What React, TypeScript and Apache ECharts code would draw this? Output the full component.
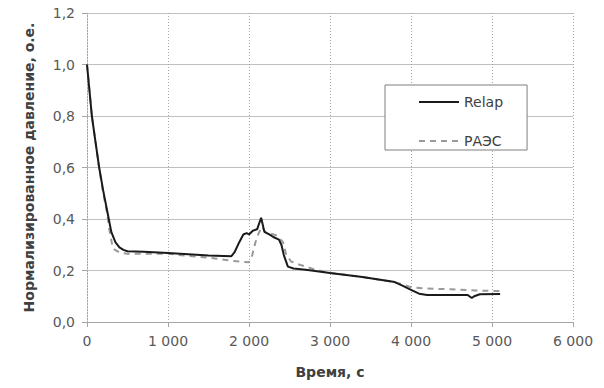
import React, { useEffect, useRef } from "react";
import * as echarts from "echarts";

const relapTime = [0, 60, 100, 150, 200, 250, 300, 350, 400, 450, 500, 700, 1000, 1300, 1500, 1780, 1820, 1880, 1930, 1970, 2000, 2050, 2100, 2150, 2190, 2250, 2300, 2370, 2400, 2430, 2480, 2550, 2700, 3000, 3400, 3700, 3800, 3900, 4000, 4100, 4200, 4500, 4700, 4750, 4780, 4850, 5100];
const relapValue = [1.0, 0.8, 0.71, 0.6, 0.51, 0.43, 0.35, 0.31, 0.29, 0.28, 0.275, 0.273, 0.268, 0.262, 0.258, 0.255, 0.27, 0.31, 0.34, 0.345, 0.34, 0.355, 0.36, 0.405, 0.35, 0.34, 0.33, 0.32, 0.3, 0.26, 0.215, 0.208, 0.203, 0.19, 0.175, 0.16, 0.155, 0.14, 0.125, 0.11, 0.105, 0.105, 0.105, 0.093, 0.1, 0.108, 0.109];

const raesTime = [0, 60, 150, 200, 250, 280, 320, 400, 500, 800, 1000, 1300, 1500, 1800, 2000, 2040, 2080, 2120, 2160, 2200, 2250, 2350, 2420, 2460, 2520, 2600, 2700, 2800, 3000, 3400, 3700, 3850, 3950, 4000, 4200, 4500, 4800, 5100];
const raesValue = [1.0, 0.8, 0.6, 0.5, 0.42, 0.35, 0.285, 0.27, 0.265, 0.265, 0.265, 0.255, 0.25, 0.237, 0.232, 0.26, 0.31, 0.345, 0.37, 0.35, 0.345, 0.335, 0.31, 0.26, 0.235, 0.225, 0.215, 0.205, 0.19, 0.175, 0.16, 0.15, 0.14, 0.135, 0.13, 0.127, 0.122, 0.12];

const xTicks = [0, 1000, 2000, 3000, 4000, 5000, 6000];
const yTicks = [0, 0.2, 0.4, 0.6, 0.8, 1.0, 1.2];

const seriesNames = ["Relap", "РАЭС"];

export default function App() {
  const ref = useRef<HTMLDivElement>(null);
  useEffect(() => {
    if (!ref.current) return;
    const chart = echarts.init(ref.current, null, { renderer: "svg" });
    const font = "DejaVu Sans";
    chart.setOption({
      animation: false,
      backgroundColor: "#ffffff",
      grid: { left: 87, right: 31, top: 13, bottom: 66, containLabel: false },
      legend: {
        orient: "vertical",
        left: 385,
        top: 85,
        backgroundColor: "#ffffff",
        borderColor: "#7f7f7f",
        borderWidth: 1,
        borderRadius: 0,
        padding: [10, 24, 2, 33],
        itemWidth: 40,
        itemHeight: 14,
        itemGap: 25,
        itemStyle: { opacity: 0 },
        textStyle: { fontFamily: font, fontSize: 14, color: "#404040" },
        data: seriesNames,
      },
      xAxis: {
        type: "value",
        min: xTicks[0],
        max: xTicks[xTicks.length - 1],
        interval: 1000,
        name: "Время, с",
        nameLocation: "middle",
        nameGap: 43,
        nameTextStyle: { fontFamily: font, fontSize: 14, fontWeight: "bold", color: "#404040" },
        axisLine: { lineStyle: { color: "#a6a6a6", width: 1 } },
        axisTick: { show: true, length: 5, lineStyle: { color: "#a6a6a6" } },
        axisLabel: {
          fontFamily: font,
          fontSize: 14,
          color: "#595959",
          margin: 12,
          formatter: (v: number) => String(v).replace(/\B(?=(\d{3})+(?!\d))/g, " "),
        },
        splitLine: { show: true, lineStyle: { color: "#a6a6a6", type: [1, 2], width: 1 } },
      },
      yAxis: {
        type: "value",
        min: yTicks[0],
        max: yTicks[yTicks.length - 1],
        interval: 0.2,
        name: "Нормализированное давление, о.е.",
        nameLocation: "middle",
        nameGap: 51,
        nameTextStyle: { fontFamily: font, fontSize: 14, fontWeight: "bold", color: "#404040" },
        axisLine: { show: true, lineStyle: { color: "#a6a6a6", width: 1, type: [1, 2] } },
        axisTick: { show: true, length: 5, lineStyle: { color: "#a6a6a6" } },
        axisLabel: {
          fontFamily: font,
          fontSize: 14,
          color: "#595959",
          margin: 12,
          formatter: (v: number) => v.toFixed(1).replace(".", ","),
        },
        splitLine: { show: true, lineStyle: { color: "#c0c0c0", width: 1 } },
      },
      series: [
        {
          name: seriesNames[0],
          type: "line",
          symbol: "none",
          z: 3,
          data: relapTime.map((t, i) => [t, relapValue[i]]),
          lineStyle: { color: "#1a1a1a", width: 2 },
          itemStyle: { color: "#1a1a1a" },
        },
        {
          name: seriesNames[1],
          type: "line",
          symbol: "none",
          z: 2,
          data: raesTime.map((t, i) => [t, raesValue[i]]),
          lineStyle: { color: "#9a9a9a", width: 2, type: [6, 5] },
          itemStyle: { color: "#9a9a9a" },
        },
      ],
    });
    return () => chart.dispose();
  }, []);
  return <div ref={ref} style={{ width: 604, height: 388, position: "absolute", left: 0, top: 0 }} />;
}
